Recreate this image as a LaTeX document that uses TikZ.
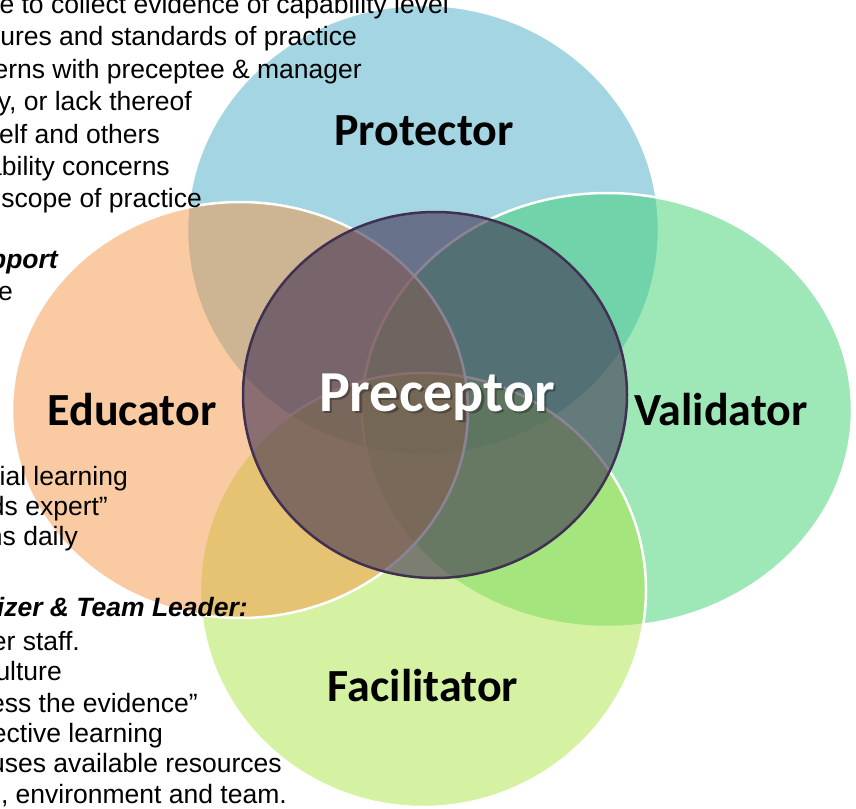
\documentclass[tikz,border=0pt]{standalone}
\usepackage{fontspec}
\setmainfont{Liberation Sans}
\newfontfamily\labfont{Carlito}
\definecolor{protC}{RGB}{75,172,198}
\definecolor{valiC}{RGB}{63,211,114}
\definecolor{faciC}{RGB}{170,230,68}
\definecolor{educC}{RGB}{247,150,70}
\definecolor{precC}{RGB}{64,49,82}
\tikzset{
  role/.style={fill opacity=0.5, draw=white, draw opacity=1, line width=2.5pt},
  rolelabel/.style={inner sep=0pt, font=\labfont\bfseries\fontsize{46}{50}\selectfont},
  listline/.style={anchor=base east, inner sep=0pt, font=\fontsize{26.5}{32}\selectfont},
  listhead/.style={listline, font=\fontsize{26.5}{32}\selectfont\bfseries\itshape},
}
\begin{document}
\begin{tikzpicture}[x=1pt,y=-1pt]
\useasboundingbox (0,0) rectangle (856,808);
\clip (0,0) rectangle (856,808);
\fill[white] (0,0) rectangle (856,808);

% the four role circles, back to front
\path[role, fill=protC] (423,230) ellipse [x radius=236pt, y radius=225pt];
\path[role, fill=valiC] (607,410) ellipse [x radius=245pt, y radius=217pt];
\path[role, fill=faciC] (423,590) ellipse [x radius=223pt, y radius=217pt];
\path[role, fill=educC] (240,410) ellipse [x radius=228pt, y radius=208pt];

% the central circle
\path[fill=precC, fill opacity=0.6, draw=precC, draw opacity=1, line width=2.5pt]
  (435,395) ellipse [x radius=192pt, y radius=183pt];

% role names
\node[rolelabel] (protector) at (424,131) {Protector};
\node[rolelabel] (educator) at (132,410) {Educator};
\node[rolelabel] (validator) at (721,410) {Validator};
\node[rolelabel] (facilitator) at (423,686) {Facilitator};
\node[rolelabel, font=\labfont\bfseries\fontsize{58}{62}\selectfont, text=black, opacity=0.3] (precshadow) at (439.5,399.5) {Preceptor};
\node[rolelabel, font=\labfont\bfseries\fontsize{58}{62}\selectfont, text=white] (preceptor) at (437,397) {Preceptor};

% protector list
\node[listline] (p1) at (449,14) {e to collect evidence of capability level};
\node[listline] (p2) at (357,46) {ures and standards of practice};
\node[listline] (p3) at (362,78) {erns with preceptee \& manager};
\node[listline] (p4) at (192,110) {y, or lack thereof};
\node[listline] (p5) at (160,143) {elf and others};
\node[listline] (p6) at (170,175) {ability concerns};
\node[listline] (p7) at (202,207) {scope of practice};

% educator list
\node[listhead] (e0) at (58,268) {pport};
\node[listline] (e1) at (13,300) {e};
\node[listline] (e2) at (128,485) {ial learning};
\node[listline] (e3) at (108,515) {ds expert”};
\node[listline] (e4) at (78,545) {ns daily};

% facilitator list
\node[listhead] (f0) at (248,616) {izer \& Team Leader:};
\node[listline] (f1) at (80,650) {er staff.};
\node[listline] (f2) at (62,680) {ulture};
\node[listline] (f3) at (198,712) {ess the evidence”};
\node[listline] (f4) at (163,742) {ective learning};
\node[listline] (f5) at (282,772) {uses available resources};
\node[listline] (f6) at (287,803) {, environment and team.};
\end{tikzpicture}
\end{document}
